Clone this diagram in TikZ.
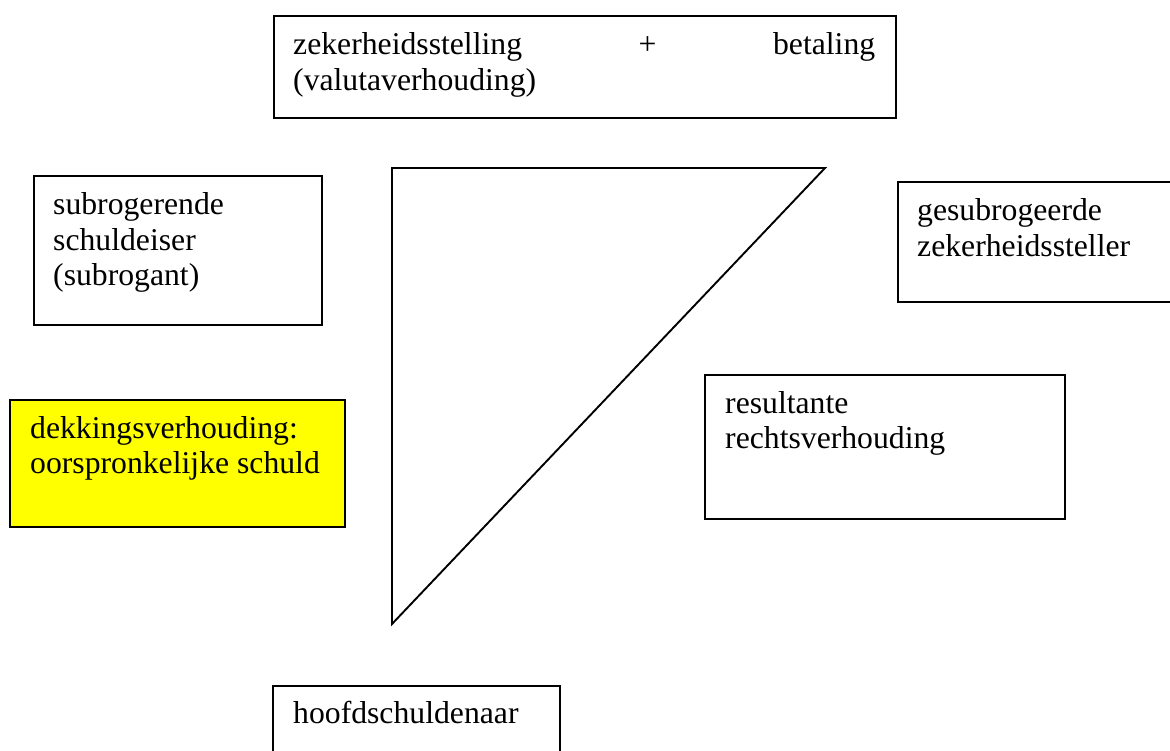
\documentclass[tikz,border=0pt]{standalone}
\usepackage{fontspec}
\setmainfont{Liberation Serif}
\definecolor{boxyellow}{RGB}{255,255,0}
\tikzset{
  frame/.style={draw=black, line width=1.9pt, fill=white, inner sep=0pt, anchor=north west},
  yellowframe/.style={frame, fill=boxyellow},
  lbl/.style={anchor=base west, inner sep=0pt, align=left, font=\fontsize{31.7}{35.5}\selectfont},
  tri/.style={draw=black, line width=1.9pt}
}
\begin{document}
\begin{tikzpicture}[x=1pt,y=-1pt]
\useasboundingbox (0,0) rectangle (1170,751);
\clip (0,0) rectangle (1170,751);
% boxes
\node[frame, minimum width=622pt, minimum height=102pt] (top) at (273,15) {};
\node[frame, minimum width=288pt, minimum height=149pt] (sub) at (33,175) {};
\node[yellowframe, minimum width=335pt, minimum height=127pt] (dek) at (9,399) {};
\node[frame, minimum width=290pt, minimum height=120pt] (ges) at (897,181) {};
\node[frame, minimum width=360pt, minimum height=144pt] (res) at (704,374) {};
\node[frame, minimum width=287pt, minimum height=100pt] (hoofd) at (272,685) {};
% texts (anchored at the baseline of their last line)
\node[lbl] (topt) at (293,90.5) {\hbox to 582pt{zekerheidsstelling\hfill+\hfill betaling}\\(valutaverhouding)};
\node[lbl] (subt) at (53,286) {subrogerende\\schuldeiser\\(subrogant)};
\node[lbl] (dekt) at (30,473.5) {dekkingsverhouding:\\oorspronkelijke schuld};
\node[lbl] (gest) at (917,256.5) {gesubrogeerde\\zekerheidssteller};
\node[lbl] (rest) at (725,448.5) {resultante\\rechtsverhouding};
\node[lbl] (hoofdt) at (293,723) {hoofdschuldenaar};
% triangle
\coordinate (ta) at (392,168);
\coordinate (tb) at (825,168);
\coordinate (tc) at (392,624);
\draw[tri] (ta) -- (tb) -- (tc) -- cycle;
\end{tikzpicture}
\end{document}
